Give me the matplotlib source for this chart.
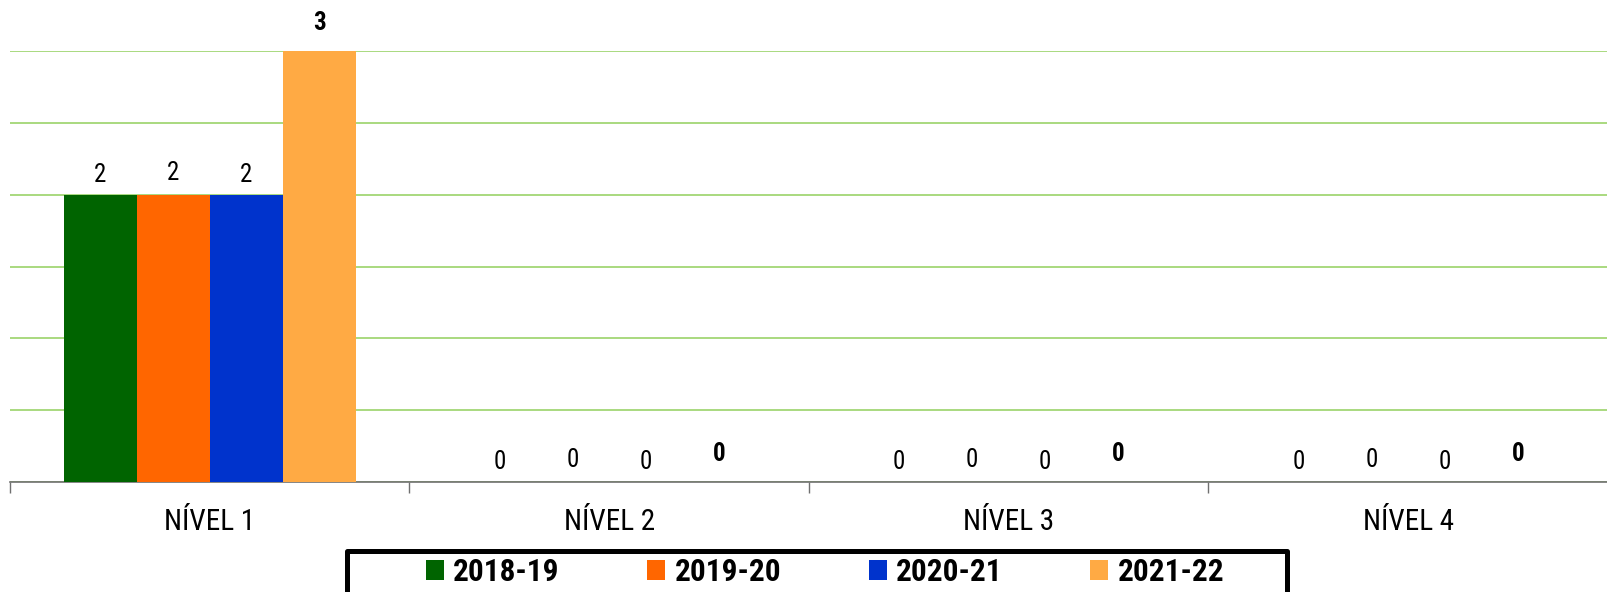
import matplotlib
matplotlib.use("Agg")
import matplotlib.pyplot as plt
import numpy as np
from matplotlib.patches import Patch, Rectangle
from matplotlib.ticker import MultipleLocator, FixedLocator
from matplotlib import font_manager as fm

categories = ["NÍVEL 1", "NÍVEL 2", "NÍVEL 3", "NÍVEL 4"]
series_names = ["2018-19", "2019-20", "2020-21", "2021-22"]
values = {
    "2018-19": [2, 0, 0, 0],
    "2019-20": [2, 0, 0, 0],
    "2020-21": [2, 0, 0, 0],
    "2021-22": [3, 0, 0, 0],
}
colors = ["#006400", "#FF6600", "#0033CC", "#FFAA44"]

# pick a condensed font if available
cond = None
stretch = "normal"
names = {f.name for f in fm.fontManager.ttflist}
for cand in ["Liberation Sans Narrow", "Roboto Condensed", "Open Sans Condensed",
             "Noto Sans Condensed", "DejaVu Sans Condensed", "Arial Narrow"]:
    if cand in names:
        cond = cand
        break
if cond is None:
    for f in fm.fontManager.ttflist:
        if f.stretch in ("condensed", "semi-condensed", "extra-condensed") or (
                isinstance(f.stretch, int) and f.stretch < 500):
            cond = f.name
            stretch = f.stretch
            break
if cond is None:
    cond = "DejaVu Sans"
FONT = [cond, "DejaVu Sans"]
plt.rcParams["font.family"] = FONT
plt.rcParams["font.stretch"] = stretch

W, H = 1608, 592
fig = plt.figure(figsize=(W / 100, H / 100), dpi=100)
ax = fig.add_axes([10 / W, 1 - 482 / H, 1 - 10 / W, (482 - 51) / H])

x = np.arange(len(categories))
bw = 0.183
label_off = [20, 22, 20, 28]
for i, name in enumerate(series_names):
    xs = x + (i - 1.5) * bw
    vals = values[name]
    ax.bar(xs, vals, width=bw, color=colors[i], zorder=3, linewidth=0)
    bold = (i == 3)
    for xi, v in zip(xs, vals):
        ax.annotate(str(v), (xi, v), xytext=(0, label_off[i] * 0.72),
                    textcoords="offset points", ha="center", va="center",
                    fontsize=18,
                    fontweight="bold" if bold else "normal",
                    color="black", annotation_clip=False)

ax.set_xlim(-0.5, 3.5)
ax.set_ylim(0, 3)
ax.yaxis.set_major_locator(MultipleLocator(0.5))
ax.grid(axis="y", color="#9BD36A", linewidth=1.2, zorder=0)
ax.set_axisbelow(True)
ax.tick_params(axis="y", left=False, labelleft=False)

for s in ["top", "right", "left"]:
    ax.spines[s].set_visible(False)
ax.spines["bottom"].set_color("#707070")
ax.spines["bottom"].set_linewidth(1.2)

ax.xaxis.set_major_locator(FixedLocator([-0.5, 0.5, 1.5, 2.5, 3.5]))
ax.tick_params(axis="x", which="major", length=8, width=1, color="#707070", labelbottom=False)
ax.set_xticks(x, categories, minor=True)
ax.tick_params(axis="x", which="minor", length=0, pad=19, labelsize=21)

handles = [Patch(facecolor=c, edgecolor="none") for c in colors]
leg = fig.legend(handles, series_names, loc="center",
                 bbox_to_anchor=(825 / W, 1 - 572 / H), ncol=4,
                 frameon=False,
                 prop={"family": FONT, "weight": "bold", "size": 22.5},
                 handlelength=0.58, handleheight=0.58, columnspacing=2.8,
                 handletextpad=0.3, borderpad=0, borderaxespad=0)

frame = Rectangle((347.5 / W, -20 / H), (1287.5 - 347.5) / W, (20 + H - 550.5) / H,
                  transform=fig.transFigure, fill=False, edgecolor="black",
                  linewidth=3.6, joinstyle="round")
fig.add_artist(frame)

fig.savefig("out.png", dpi=100)
